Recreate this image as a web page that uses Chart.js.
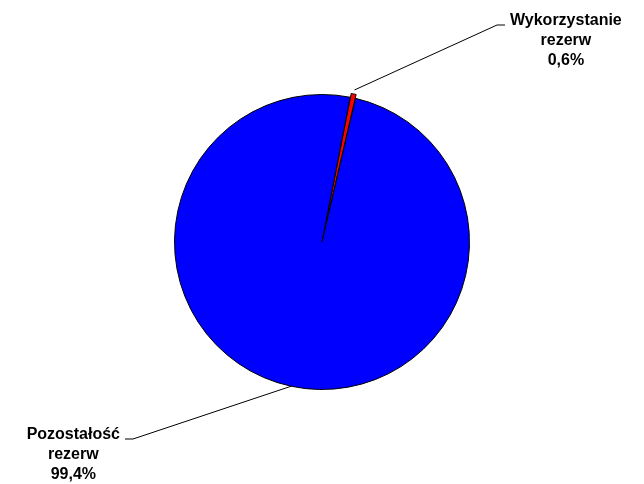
<!DOCTYPE html>
<html>
<head>
<meta charset="utf-8">
<script src="https://cdn.jsdelivr.net/npm/chart.js@4"></script>
<style>
  html, body { margin: 0; padding: 0; background: #fff; }
  #wrap { width: 644px; height: 484px; }
</style>
</head>
<body>
<div id="wrap"><canvas id="pie"></canvas></div>
<script>
const categories = ['Wykorzystanie rezerw', 'Pozostałość rezerw']
const labelLines = [['Wykorzystanie', 'rezerw'], ['Pozostałość', 'rezerw']]
const percentLabels = ['0,6%', '99,4%']
const values = [0.6, 99.4]
const sliceColors = ['#ff0000', '#0000ff']

// where each label's leader line ends (elbow, then short horizontal tail)
const leaders = [
  { elbowX: 497, endX: 505, y: 25, side: 'right' },
  { elbowX: 133, endX: 125, y: 439, side: 'left' }
]

const labelFont = 'bold 16px "Liberation Sans", Arial, sans-serif'
const lineHeight = 20

const leaderPlugin = {
  id: 'leaderLabels',
  afterDatasetsDraw(chart) {
    const ctx = chart.ctx
    const arcs = chart.getDatasetMeta(0).data
    ctx.save()
    ctx.strokeStyle = '#000'
    ctx.lineWidth = 1
    ctx.fillStyle = '#000'
    ctx.font = labelFont
    arcs.forEach((arc, i) => {
      const p = arc.getProps(['x', 'y', 'startAngle', 'endAngle', 'outerRadius'], true)
      const mid = (p.startAngle + p.endAngle) / 2
      const off = arc.options.offset || 0
      const r = p.outerRadius + off
      const ax = p.x + Math.cos(mid) * r
      const ay = p.y + Math.sin(mid) * r
      const L = leaders[i]
      ctx.beginPath()
      ctx.moveTo(ax, ay)
      ctx.lineTo(L.elbowX, L.y)
      ctx.lineTo(L.endX, L.y)
      ctx.stroke()

      const lines = labelLines[i].concat([percentLabels[i]])
      const w = ctx.measureText(lines[0]).width
      let cx
      if (L.side === 'right') cx = L.endX + 5 + w / 2
      else cx = L.endX - 5 - w / 2
      ctx.textAlign = 'center'
      ctx.textBaseline = 'alphabetic'
      lines.forEach((t, k) => {
        ctx.fillText(t, cx, L.y + k * lineHeight)
      })
    })
    ctx.restore()
  }
}

new Chart(document.getElementById('pie'), {
  type: 'pie',
  data: {
    labels: categories,
    datasets: [{
      data: values,
      backgroundColor: sliceColors,
      borderColor: '#000',
      borderWidth: 1,
      offset: [8, 0]
    }]
  },
  options: {
    responsive: true,
    maintainAspectRatio: false,
    animation: false,
    rotation: 11,
    layout: { padding: { top: 90, bottom: 90, left: 170, right: 170 } },
    plugins: {
      legend: { display: false },
      tooltip: { enabled: false },
      title: { display: false }
    }
  },
  plugins: [leaderPlugin]
})
</script>
</body>
</html>
